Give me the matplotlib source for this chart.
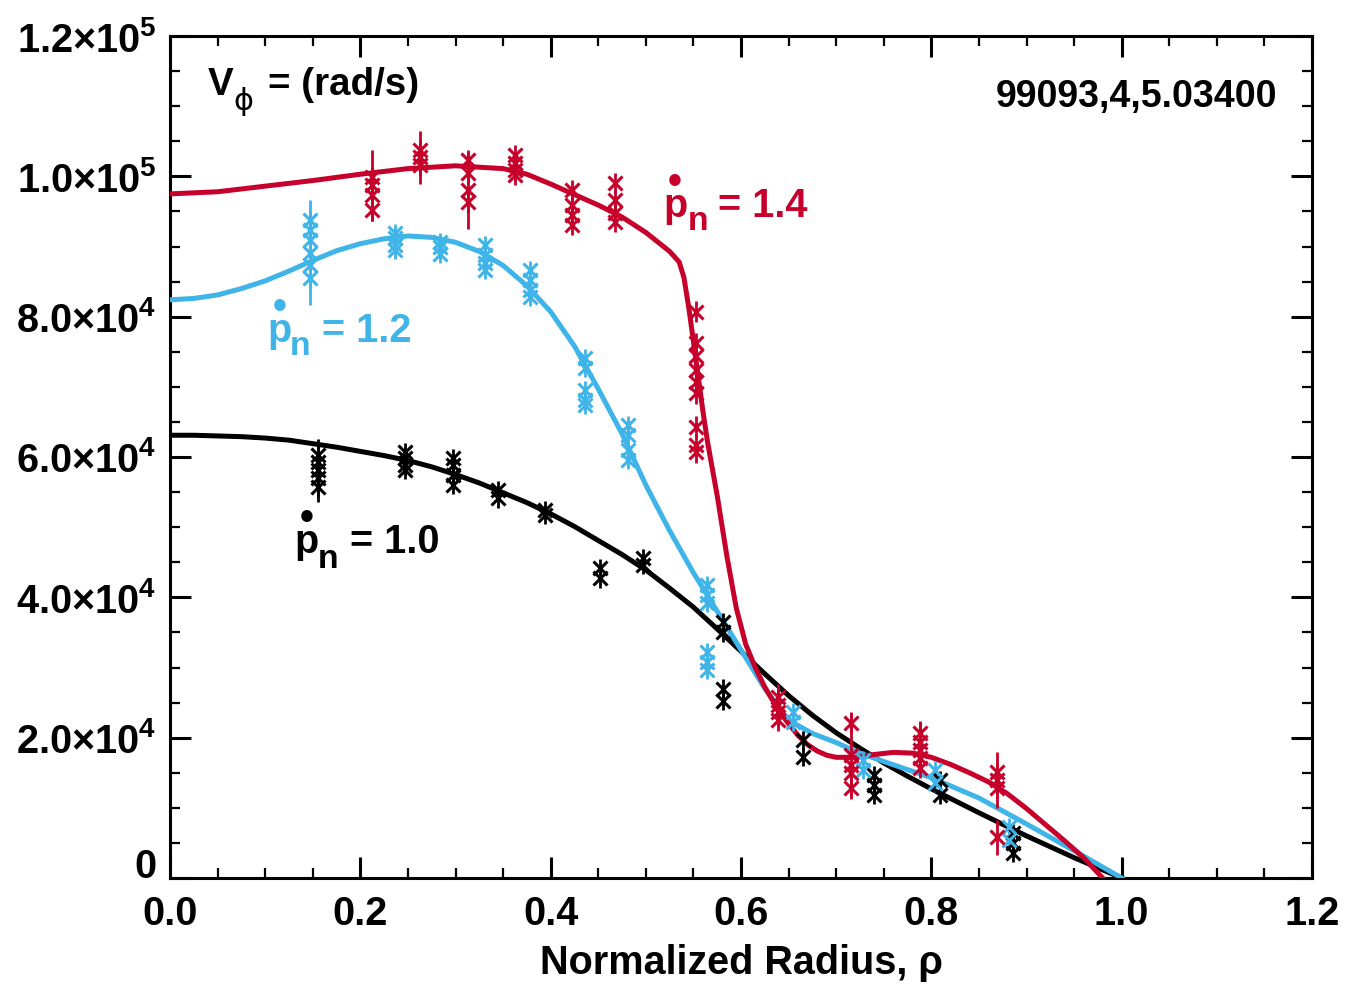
import matplotlib
matplotlib.use("Agg")
import matplotlib.pyplot as plt
from matplotlib import font_manager
from matplotlib.ticker import MultipleLocator, FixedLocator, FixedFormatter

# ---------------- data ----------------
RED = "#C6002B"
BLUE = "#3FB4E8"
BLACK = "#000000"

# fitted rotation profiles (rho, V_phi)
black_curve_x = [0.0, 0.025, 0.05, 0.075, 0.10, 0.125, 0.15, 0.175, 0.20, 0.225, 0.25, 0.275,
                 0.30, 0.325, 0.35, 0.375, 0.40, 0.425, 0.45, 0.475, 0.50, 0.525, 0.55, 0.575,
                 0.60, 0.625, 0.65, 0.675, 0.70, 0.725, 0.75, 0.775, 0.80, 0.85, 0.90, 0.95, 1.00]
black_curve_y = [63100, 63100, 63000, 62900, 62700, 62400, 61900, 61400, 60800, 60200, 59500, 58600,
                 57500, 56300, 54900, 53500, 51900, 50100, 48100, 46100, 43900, 41300, 38600, 35500,
                 32300, 29100, 26000, 23200, 20700, 18500, 16400, 14500, 12700, 9300, 6000, 2900, 0]

blue_curve_x = [0.0, 0.025, 0.05, 0.075, 0.10, 0.125, 0.15, 0.175, 0.20, 0.225, 0.25, 0.275,
                0.30, 0.325, 0.35, 0.375, 0.40, 0.425, 0.45, 0.475, 0.50, 0.525, 0.55, 0.575,
                0.60, 0.625, 0.65, 0.675, 0.70, 0.725, 0.75, 0.80, 0.85, 0.90, 0.95, 1.00]
blue_curve_y = [82400, 82600, 83100, 84000, 85100, 86500, 88000, 89400, 90400, 91100, 91500, 91300,
                90600, 89300, 87300, 84400, 80700, 75800, 69700, 63300, 56000, 49500, 43500, 38000,
                32500, 27000, 22500, 20600, 19300, 17800, 16600, 14300, 11400, 7700, 3900, 0]

red_curve_x = [0.0, 0.05, 0.10, 0.15, 0.20, 0.25, 0.30, 0.35, 0.375, 0.40, 0.425, 0.45, 0.475,
               0.50, 0.525, 0.535, 0.54, 0.545, 0.55, 0.555, 0.56, 0.565, 0.575, 0.585, 0.595,
               0.605, 0.615, 0.625, 0.64, 0.65, 0.66, 0.67, 0.68, 0.69, 0.70, 0.72, 0.74, 0.76,
               0.78, 0.80, 0.82, 0.84, 0.86, 0.88, 0.90, 0.92, 0.94, 0.96, 0.98]
red_curve_y = [97500, 97800, 98600, 99400, 100300, 101100, 101500, 101100, 100300, 98900, 97400,
               95900, 94200, 92000, 89300, 87800, 85600, 81400, 76500, 71500, 66500, 62000,
               54500, 46000, 38500, 33300, 30000, 27200, 23800, 22000, 20300, 19000, 18100,
               17500, 17200, 17200, 17600, 17900, 17800, 17200, 16200, 15000, 13700, 12000,
               9900, 7600, 5300, 2900, 0]

# measured points: one x per chord, several samples per chord, with error half-widths
red_pts_x = [0.212, 0.263, 0.313, 0.363, 0.422, 0.468, 0.553, 0.639, 0.716, 0.788, 0.869]
red_pts_y = [[99900, 98700, 97300, 95200],
             [103700, 102700, 101600],
             [102300, 100500, 98000, 96300],
             [103000, 101900, 100900, 100200],
             [98000, 95900, 94500, 93100],
             [99000, 96600, 94800, 93500],
             [80700, 76200, 74400, 72400, 70700, 69100, 64300, 61700, 60700],
             [25800, 24700, 23700, 22500],
             [22100, 17500, 16100, 15000, 12800],
             [20700, 19400, 18200, 17100, 15700],
             [15100, 14000, 12800, 5800]]
red_pts_err = [[1500, 5000, 1500, 1500],
               [1500, 3800, 1500],
               [1500, 1500, 5500, 1500],
               [1500, 1500, 1500, 1500],
               [1500, 2500, 1500, 1500],
               [1500, 1500, 1500, 1500],
               [1500, 1500, 1500, 1500, 1500, 1500, 1500, 1500, 1500],
               [1500, 3000, 1500, 1500],
               [1500, 6000, 1500, 1500, 1500],
               [1500, 3000, 1500, 1500, 1500],
               [1500, 4000, 1500, 2500]]

blue_pts_x = [0.147, 0.236, 0.284, 0.331, 0.378, 0.436, 0.481, 0.564, 0.655, 0.728, 0.804, 0.882]
blue_pts_y = [[93800, 92300, 90900, 89100, 87400, 85500],
              [91900, 91200, 90200, 89500],
              [90600, 89900, 88900],
              [90200, 88800, 87600, 86600],
              [86600, 85200, 83800, 82800],
              [74100, 72700, 69500, 68100, 67400],
              [64600, 63100, 61000, 59600],
              [41800, 40300, 39200, 32200, 30800, 29600],
              [23700, 22200],
              [16800, 15400],
              [15400, 13500],
              [7300, 5400]]
blue_pts_err = [[1300, 1300, 1300, 7500, 1300, 1300],
                [1300, 1300, 1300, 1300],
                [1300, 1300, 1300],
                [1300, 1300, 1300, 1300],
                [1300, 1300, 1300, 1300],
                [1300, 1300, 1300, 1300, 1300],
                [1300, 1300, 1300, 1300],
                [1300, 1300, 1300, 1300, 1300, 1300],
                [1300, 1300],
                [1300, 1300],
                [1300, 1300],
                [1300, 1300]]

black_pts_x = [0.155, 0.247, 0.297, 0.345, 0.394, 0.452, 0.497, 0.581, 0.665, 0.740, 0.809, 0.886]
black_pts_y = [[60300, 59300, 58100, 57000, 55700],
               [60700, 59800, 58900, 58100],
               [59800, 58900, 57400, 56000],
               [55300, 54100],
               [52400, 51700],
               [44200, 42700],
               [45600, 44600],
               [36500, 35000, 27000, 25200],
               [19700, 17200],
               [14700, 13300, 11800],
               [14000, 11800],
               [6400, 5000, 3600]]
black_pts_err = [[1300, 1300, 4500, 1300, 1300],
                 [1300, 1300, 1300, 1300],
                 [1300, 1300, 1300, 1300],
                 [1300, 1300],
                 [1300, 1300],
                 [1300, 1300],
                 [1300, 1300],
                 [1300, 1300, 1300, 1300],
                 [1300, 1300],
                 [1300, 1300, 1300],
                 [1300, 1300],
                 [1300, 1300, 1300]]

x_ticks = [0.0, 0.2, 0.4, 0.6, 0.8, 1.0, 1.2]
x_tick_labels = ["0.0", "0.2", "0.4", "0.6", "0.8", "1.0", "1.2"]
y_ticks = [0, 20000, 40000, 60000, 80000, 100000, 120000]
y_tick_labels = ["0", "2.0\u00d710$^{4}$", "4.0\u00d710$^{4}$", "6.0\u00d710$^{4}$",
                 "8.0\u00d710$^{4}$", "1.0\u00d710$^{5}$", "1.2\u00d710$^{5}$"]

# ---------------- fonts ----------------
available = {f.name for f in font_manager.fontManager.ttflist}
FONT = "DejaVu Sans"
for cand in ["Liberation Sans Narrow", "Liberation Sans", "DejaVu Sans"]:
    if cand in available:
        FONT = cand
        break
K = 1.0 if FONT == "Liberation Sans Narrow" else 0.84

plt.rcParams["font.family"] = [FONT, "DejaVu Sans"]
plt.rcParams["font.weight"] = "bold"
plt.rcParams["mathtext.fontset"] = "custom"
plt.rcParams["mathtext.rm"] = FONT
plt.rcParams["mathtext.bf"] = FONT + ":bold"
plt.rcParams["mathtext.it"] = FONT + ":bold"
plt.rcParams["mathtext.default"] = "bf"

# ---------------- figure ----------------
fig = plt.figure(figsize=(13.53, 9.93), dpi=100)
ax = fig.add_axes([170 / 1353, 1 - 878 / 993, 1142 / 1353, 842 / 993])
ax.set_xlim(0, 1.2)
ax.set_ylim(0, 120000)

LW = 3.6
ax.plot(black_curve_x, black_curve_y, color=BLACK, lw=LW, solid_joinstyle="round", zorder=3)
ax.plot(blue_curve_x, blue_curve_y, color=BLUE, lw=LW, solid_joinstyle="round", zorder=3)
ax.plot(red_curve_x, red_curve_y, color=RED, lw=LW, solid_joinstyle="round", zorder=4)


def draw_points(xs, ys, errs, color, z):
    fx, fy, fe = [], [], []
    for x, yl, el in zip(xs, ys, errs):
        for y, e in zip(yl, el):
            fx.append(x)
            fy.append(y)
            fe.append(e)
    ax.errorbar(fx, fy, yerr=fe, fmt="x", color=color, ms=10, mew=2.2,
                elinewidth=2.0, capsize=0, zorder=z)


draw_points(black_pts_x, black_pts_y, black_pts_err, BLACK, 5)
draw_points(blue_pts_x, blue_pts_y, blue_pts_err, BLUE, 5)
draw_points(red_pts_x, red_pts_y, red_pts_err, RED, 6)

# ticks and frame
ax.xaxis.set_major_locator(FixedLocator(x_ticks))
ax.xaxis.set_major_formatter(FixedFormatter(x_tick_labels))
ax.xaxis.set_minor_locator(MultipleLocator(0.05))
ax.yaxis.set_major_locator(FixedLocator(y_ticks))
ax.yaxis.set_major_formatter(FixedFormatter(y_tick_labels))
ax.yaxis.set_minor_locator(MultipleLocator(5000))
ax.tick_params(which="both", direction="in", top=True, right=True, labelsize=34 * K)
ax.tick_params(which="major", length=15, width=2.2)
ax.tick_params(which="minor", length=7, width=1.6)
ax.tick_params(axis="x", which="major", pad=12)
ax.tick_params(axis="y", which="major", pad=10)
for lab in ax.get_xticklabels() + ax.get_yticklabels():
    lab.set_fontweight("bold")
# the "0" at the origin rests on its tick, clear of the "0.0" below it
ax.yaxis.get_major_ticks()[0].label1.set_verticalalignment("baseline")
for s in ax.spines.values():
    s.set_linewidth(2.2)

ax.set_xlabel("Normalized Radius, \u03c1", fontsize=34 * K, fontweight="bold", labelpad=8)

# panel annotations
ax.text(0.0333, 0.930, "V", transform=ax.transAxes, fontsize=33 * K, fontweight="bold",
        ha="left", va="baseline")
ax.text(0.0639, 0.912, "\u03d5", transform=ax.transAxes, fontsize=26 * K, fontweight="normal",
        family=["DejaVu Sans"], ha="center", va="baseline")
ax.text(0.0858, 0.930, "= (rad/s)", transform=ax.transAxes, fontsize=33 * K,
        fontweight="bold", ha="left", va="baseline")
ax.text(0.970, 0.9157, "99093,4,5.03400", transform=ax.transAxes, fontsize=27,
        fontweight="bold", ha="right", va="baseline")


def pdot_label(x_p, y_base, x_n, y_n, x_eq, value, color):
    # dotted p (time derivative) as one two-line text: the dot sits just above the p
    ax.text(x_p, y_base, "\u2022\np", color=color, fontsize=34 * K, fontweight="bold",
            ha="left", va="baseline", multialignment="center", linespacing=0.5, zorder=7)
    ax.text(x_n, y_n, "n", color=color, fontsize=29 * K, fontweight="bold",
            ha="left", va="baseline", zorder=7)
    ax.text(x_eq, y_base, "= " + value, color=color, fontsize=34 * K, fontweight="bold",
            ha="left", va="baseline", zorder=7)


pdot_label(0.518, 94200, 0.544, 92300, 0.576, "1.4", RED)
pdot_label(0.102, 76400, 0.126, 74500, 0.160, "1.2", BLUE)
pdot_label(0.131, 46300, 0.1555, 44200, 0.189, "1.0", BLACK)

fig.savefig("out.png", dpi=100)
